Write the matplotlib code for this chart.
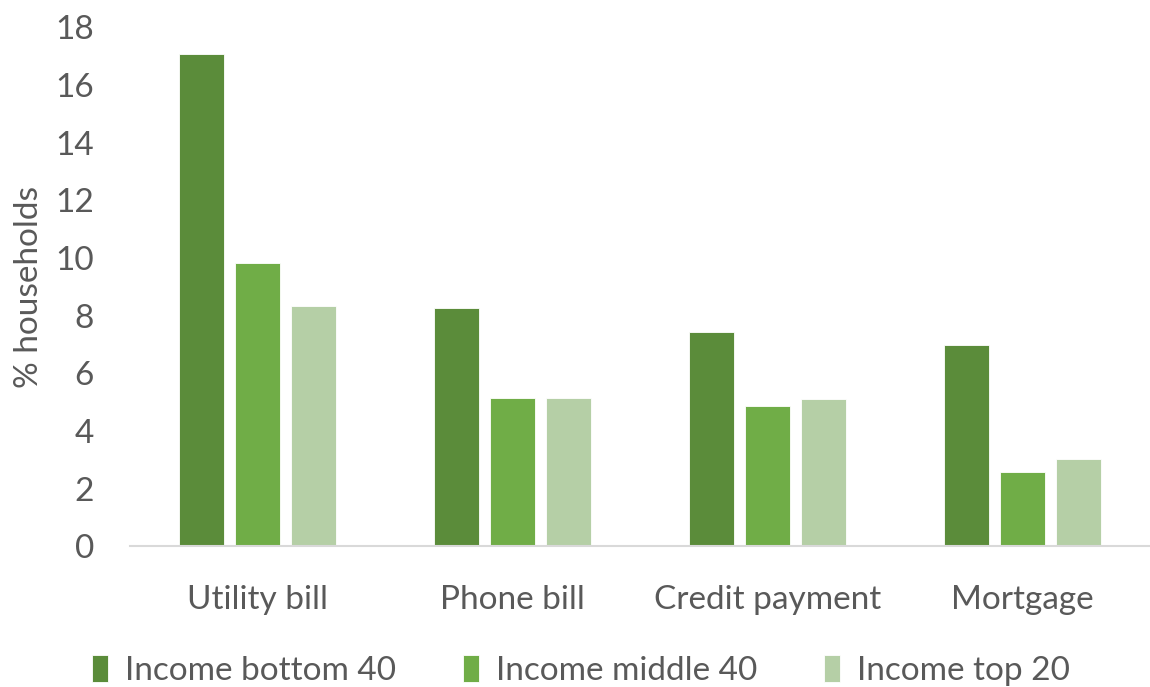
import matplotlib
matplotlib.use("Agg")
import matplotlib.pyplot as plt
import numpy as np

categories = ["Utility bill", "Phone bill", "Credit payment", "Mortgage"]
series_names = ["Income bottom 40", "Income middle 40", "Income top 20"]
bottom_40 = [17.07, 8.28, 7.42, 6.98]
middle_40 = [9.82, 5.14, 4.85, 2.57]
top_20 = [8.34, 5.14, 5.09, 3.02]
y_ticks = [0, 2, 4, 6, 8, 10, 12, 14, 16, 18]

colors = ["#5B8C3A", "#70AD47", "#B5CFA6"]
text_color = "#595959"

plt.rcParams["font.family"] = ["Lato", "DejaVu Sans"]

fig = plt.figure(figsize=(11.5, 6.87), dpi=100)
ax = fig.add_axes([0.113, 0.205, 0.887, 0.755])

x = np.arange(len(categories))
width = 0.176
step = 0.22
for i, (vals, name, c) in enumerate(zip([bottom_40, middle_40, top_20], series_names, colors)):
    ax.bar(x + (i - 1) * step, vals, width, color=c, label=name,
           edgecolor="white", linewidth=0.6)

ax.set_xlim(-0.5, len(categories) - 0.5)
ax.set_ylim(0, 18)
ax.set_yticks(y_ticks)
ax.set_xticks(x)
ax.set_xticklabels(categories)
ax.tick_params(axis="both", length=0, labelsize=24, colors=text_color)
ax.tick_params(axis="x", pad=28)
ax.tick_params(axis="y", pad=26)
for s in ["top", "right", "left"]:
    ax.spines[s].set_visible(False)
ax.spines["bottom"].set_color("#D9D9D9")
ax.spines["bottom"].set_linewidth(1.5)

ax.set_ylabel("% households", fontsize=24, color=text_color, labelpad=8)

leg = fig.legend(loc="lower center", bbox_to_anchor=(0.505, -0.042), ncol=3,
                 frameon=False, fontsize=24, handlelength=0.5, handleheight=0.85,
                 handletextpad=0.5, columnspacing=2.0)
for t in leg.get_texts():
    t.set_color(text_color)

fig.savefig("out.png", dpi=100)
